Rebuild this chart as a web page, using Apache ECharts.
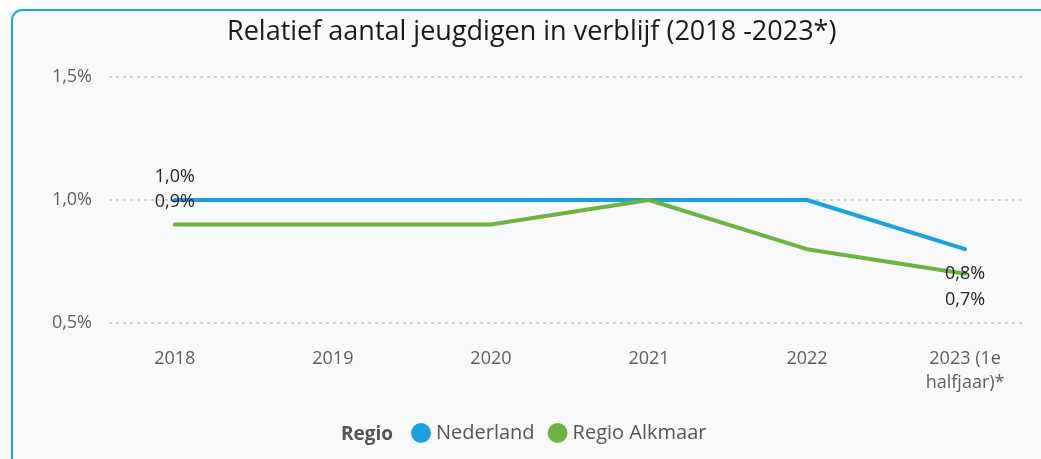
<!DOCTYPE html>
<html>
<head>
<meta charset="utf-8">
<script src="https://cdn.jsdelivr.net/npm/echarts@6/dist/echarts.min.js"></script>
<style>
  html, body { margin: 0; padding: 0; background: #ffffff; }
  #main { width: 1041px; height: 459px; }
</style>
</head>
<body>
<div id="main"></div>
<script>
// categorieen en waarden (in %)
const years = ['2018', '2019', '2020', '2021', '2022', '2023 (1e\nhalfjaar)*'];
const nederland = [1.0, 1.0, 1.0, 1.0, 1.0, 0.8];
const alkmaar = [0.9, 0.9, 0.9, 1.0, 0.8, 0.7];
const yTicks = [0.5, 1.0, 1.5];

const fmt = v => v.toFixed(1).replace('.', ',') + '%';
const font = '"Open Sans", "Noto Sans", sans-serif';

// alleen eerste en laatste punt krijgen een label
const buildData = (vals, firstDist, lastDist) => vals.map((v, i) => {
    let item = { value: [i, v] };
    if (i === 0) {
        item.label = { show: true, position: 'top', distance: firstDist };
    } else if (i === vals.length - 1) {
        item.label = { show: true, position: 'bottom', distance: lastDist };
    }
    return item;
});

const chart = echarts.init(document.getElementById('main'));
chart.setOption({
    backgroundColor: '#ffffff',
    animation: false,
    graphic: [{
        type: 'rect',
        z: -10,
        shape: { x: 12, y: 10, width: 1100, height: 520, r: 10 },
        style: { fill: '#f8f9fb', stroke: '#1ba6e4', lineWidth: 2 }
    }],
    title: [{
        text: 'Relatief aantal jeugdigen in verblijf (2018 -2023*)',
        left: 222,
        top: 14,
        textStyle: { fontFamily: font, fontSize: 27, fontWeight: 'normal', color: '#1a1a1a' }
    }, {
        text: 'Regio',
        left: 336,
        top: 420,
        textStyle: { fontFamily: font, fontSize: 19, fontWeight: 'bold', color: '#555555' }
    }],
    legend: {
        left: 406,
        top: 418,
        icon: 'circle',
        itemWidth: 20,
        itemHeight: 20,
        itemGap: 13,
        textStyle: { fontFamily: font, fontSize: 20, color: '#555555' },
        data: ['Nederland', 'Regio Alkmaar']
    },
    grid: { left: 110, right: 19, top: 77, bottom: 136, containLabel: false },
    xAxis: {
        type: 'value',
        min: -0.41,
        max: 5.36,
        axisLine: { show: false },
        axisTick: { show: false },
        splitLine: { show: false },
        axisLabel: {
            customValues: [0, 1, 2, 3, 4, 5],
            formatter: v => years[Math.round(v)],
            margin: 24,
            lineHeight: 24,
            fontFamily: font,
            fontSize: 18,
            color: '#605e5c'
        }
    },
    yAxis: {
        type: 'value',
        min: yTicks[0],
        max: yTicks[yTicks.length - 1],
        interval: 0.5,
        axisLine: { show: false },
        axisTick: { show: false },
        axisLabel: {
            formatter: v => fmt(v),
            margin: 18,
            fontFamily: font,
            fontSize: 18,
            color: '#605e5c'
        },
        splitLine: { lineStyle: { color: '#cccccc', width: 2, type: [1, 6], cap: 'round' } }
    },
    series: [{
        name: 'Nederland',
        type: 'line',
        showSymbol: true,
        symbol: 'circle',
        symbolSize: 0,
        color: '#1ba1e2',
        lineStyle: { width: 4, cap: 'round', join: 'round' },
        label: { formatter: p => fmt(p.value[1]), fontFamily: font, fontSize: 18, color: '#252423' },
        data: buildData(nederland, 14, 16)
    }, {
        name: 'Regio Alkmaar',
        type: 'line',
        showSymbol: true,
        symbol: 'circle',
        symbolSize: 0,
        color: '#6cb33f',
        lineStyle: { width: 4, cap: 'round', join: 'round' },
        label: { formatter: p => fmt(p.value[1]), fontFamily: font, fontSize: 18, color: '#252423' },
        data: buildData(alkmaar, 14, 17)
    }]
});
</script>
</body>
</html>
